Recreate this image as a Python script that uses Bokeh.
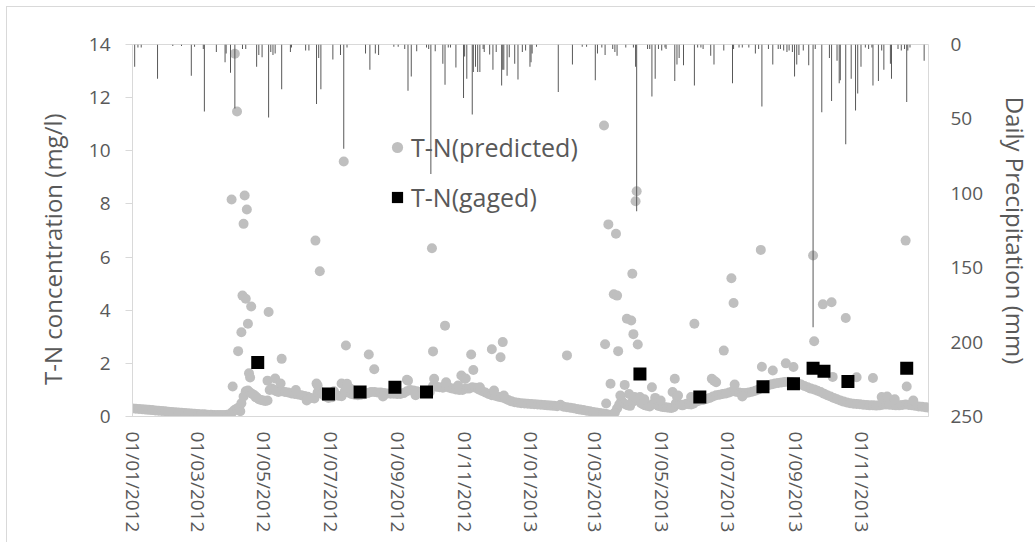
import math
from datetime import datetime, timedelta
import pandas as pd
from bokeh.plotting import figure
from bokeh.models import (Range1d, LinearAxis, FixedTicker, DatetimeTickFormatter,
                          Legend, LegendItem)
from bokeh.embed import file_html
from bokeh.resources import INLINE

START = datetime(2012, 1, 1)
END = datetime(2014, 1, 1)

# ---- T-N predicted: smooth daily baseline (day offset from 01/01/2012, mg/l)
base_day = [0, 3, 6, 9, 12, 15, 18, 21, 24, 27, 30, 33, 36, 39, 42, 45, 48, 51, 54, 57,
            60, 63, 66, 69, 72, 75, 78, 81, 84, 87, 90, 92, 94, 96, 98, 99,
            100, 102, 104, 106, 108, 110, 112, 114, 116, 118, 120, 122, 124, 126, 128, 130,
            132, 134, 137, 140, 143, 146, 149, 152, 155, 158, 161, 164, 167, 170, 172, 174,
            177, 180, 183, 186, 189, 192, 195, 198, 201, 204, 207, 210, 213, 216, 219, 222,
            225, 228, 231, 234, 237, 240, 243, 246, 249, 252, 255, 258, 261, 264, 267, 270,
            273, 276, 279, 282, 285, 288, 291, 294, 297, 300, 303, 306, 309, 312, 315, 318,
            321, 324, 327, 330, 333, 336, 339, 342, 345, 348, 351, 354, 357, 360, 363,
            366, 369, 372, 375, 378, 381, 384, 387, 390, 393, 396, 399, 402, 405, 408, 411,
            414, 417, 420, 423, 426, 429, 432, 435, 438, 441, 443, 445, 447, 449, 451, 453,
            455, 457, 459, 461, 463, 465, 467, 469, 471, 473, 475, 477, 479, 481, 483, 485,
            487, 489, 491, 493, 495, 497, 499, 501, 503, 505, 507, 509, 511, 513, 515, 517,
            519, 521, 524, 527, 530, 533, 536, 539, 542, 545, 548, 551, 554, 557, 560, 563,
            566, 569, 572, 575, 578, 581, 584, 587, 590, 593, 596, 599, 602, 605, 608, 611,
            614, 617, 620, 623, 626, 629, 632, 635, 638, 641, 644, 647, 650, 653, 656, 659,
            662, 665, 668, 671, 674, 677, 680, 683, 686, 689, 692, 695, 698, 701, 704, 707,
            710, 713, 716, 719, 722, 725, 728, 730]
base_val = [0.30, 0.29, 0.28, 0.27, 0.26, 0.25, 0.24, 0.23, 0.22, 0.21, 0.20, 0.18, 0.17, 0.16,
            0.15, 0.14, 0.13, 0.12, 0.11, 0.10, 0.09, 0.08, 0.08, 0.07, 0.07, 0.06, 0.06, 0.06,
            0.06, 0.07, 0.10, 0.18, 0.25, 0.30, 0.35, 0.20,
            0.50, 0.75, 0.95, 0.98, 0.90, 0.85, 0.80, 0.72, 0.65, 0.62, 0.60, 0.58, 0.60, 1.00,
            1.05, 1.00, 0.95, 0.92, 0.95, 0.92, 0.90, 0.87, 0.85, 0.83, 0.80, 0.77, 0.74, 0.70,
            0.68, 0.90, 0.95, 0.85, 0.75, 0.70, 0.72, 0.80, 0.78, 0.76, 0.95, 0.90, 0.85, 0.82,
            0.80, 0.82, 0.84, 0.88, 0.92, 0.92, 0.90, 0.90, 0.88, 0.87, 0.86, 0.86, 0.85, 0.85,
            0.88, 0.95, 1.00, 0.98, 0.95, 0.92, 0.90, 0.90, 0.92, 1.15, 1.12, 1.10, 1.08, 1.12,
            1.08, 1.05, 1.02, 1.00, 1.00, 1.05, 1.05, 1.10, 1.08, 1.02, 0.96, 0.90, 0.85, 0.80,
            0.78, 0.74, 0.72, 0.68, 0.62, 0.57, 0.54, 0.52, 0.50, 0.49, 0.48,
            0.47, 0.46, 0.45, 0.44, 0.43, 0.42, 0.41, 0.40, 0.39, 0.44, 0.37, 0.35, 0.33, 0.31,
            0.28, 0.26, 0.24, 0.22, 0.20, 0.17, 0.15, 0.13, 0.11, 0.09, 0.07, 0.05, 0.15, 0.30,
            0.45, 0.60, 0.50, 0.45, 0.42, 0.40, 0.55, 0.60, 0.70, 0.60, 0.50, 0.45, 0.42, 0.40,
            0.38, 0.45, 0.50, 0.45, 0.40, 0.38, 0.36, 0.35, 0.34, 0.33, 0.32, 0.35, 0.50, 0.48,
            0.45, 0.42, 0.45, 0.48, 0.46, 0.45, 0.48, 0.55, 0.58, 0.60, 0.62, 0.66, 0.70, 0.75,
            0.80, 0.82, 0.85, 0.87, 0.90, 0.95, 0.93, 0.90, 0.88, 0.88, 0.90, 0.93, 0.97, 1.02,
            1.10, 1.14, 1.18, 1.21, 1.24, 1.26, 1.28, 1.30, 1.31, 1.30, 1.28, 1.25, 1.20, 1.15,
            1.10, 1.05, 1.02, 0.97, 0.92, 0.86, 0.80, 0.75, 0.70, 0.65, 0.60, 0.56, 0.53, 0.50,
            0.48, 0.47, 0.46, 0.44, 0.43, 0.42, 0.42, 0.41, 0.42, 0.44, 0.45, 0.44, 0.43, 0.42,
            0.42, 0.43, 0.45, 0.43, 0.42, 0.40, 0.38, 0.37, 0.35, 0.34]

# ---- T-N predicted: storm-event values
peak_day = [91, 92, 94, 96, 97, 100, 101, 102, 103, 104, 105, 106, 107, 108, 109, 113,
            124, 125, 131, 136, 137, 150, 160, 168, 169, 170, 172, 185, 192, 194, 196, 197,
            200, 217, 222, 230, 252, 253, 260, 275, 276, 277, 287, 288, 299, 302, 305, 306,
            311, 313, 319, 330, 332, 338, 340, 341,
            399, 433, 434, 435, 437, 439, 442, 444, 445, 446, 448, 452, 454, 456, 458, 459,
            460, 461, 462, 463, 464, 466, 470, 477, 480, 485, 496, 498, 500, 501, 513, 516,
            532, 534, 536, 543, 550, 552, 553, 560, 577, 578, 588, 600, 607, 625, 626, 634,
            642, 643, 655, 665, 680, 688, 693, 700, 710, 711, 717]
peak_val = [8.17, 1.13, 13.65, 11.48, 2.46, 3.17, 4.55, 7.25, 8.32, 4.43, 7.79, 3.49, 1.63,
            1.47, 4.14, 0.73, 1.35, 3.93, 1.43, 1.24, 2.17, 1.00, 0.60, 6.62, 1.24, 1.17,
            5.47, 0.95, 1.24, 9.60, 2.67, 1.23, 1.05, 2.33, 1.78, 0.75, 1.38, 1.35, 0.80,
            6.33, 2.45, 1.42, 3.42, 1.29, 1.17, 1.54, 1.42, 1.43, 2.33, 1.75, 1.10, 2.53,
            0.98, 2.23, 2.80, 0.79,
            2.30, 10.95, 2.72, 0.49, 7.23, 1.23, 4.60, 6.88, 4.55, 2.46, 0.79, 1.19, 3.68, 0.85,
            3.61, 5.37, 3.10, 0.73, 8.10, 8.48, 2.71, 0.73, 0.65, 1.10, 0.70, 0.60, 0.92, 1.42,
            0.75, 0.79, 0.73, 3.49, 1.42, 1.35, 1.29, 2.48, 5.20, 4.27, 1.20, 0.75, 6.27, 1.87,
            1.73, 2.00, 1.86, 6.06, 2.83, 4.22, 4.30, 1.49, 3.71, 1.48, 1.45, 0.73, 0.75, 0.65,
            6.62, 1.13, 0.60]

# ---- T-N gaged samples
gaged_day = [115, 180, 209, 241, 270, 466, 521, 579, 607, 625, 635, 657, 711]
gaged_val = [2.03, 0.85, 0.92, 1.10, 0.92, 1.60, 0.73, 1.12, 1.23, 1.82, 1.70, 1.32, 1.82]

# ---- Daily precipitation (mm), rainy days only
rain_day = [2, 5, 8, 23, 37, 45, 54, 57, 65, 66, 77, 85, 86, 90, 94, 101, 104, 114, 116, 119,
            125, 127, 129, 131, 137, 145, 146, 159, 162, 169, 171, 173, 184, 191, 194, 197,
            214, 218, 223, 226, 240, 244, 250, 253, 256, 261, 270, 272, 274, 278, 285, 287,
            290, 292, 297, 304, 305, 307, 312, 313, 315, 317, 319, 322, 323, 328, 331, 334,
            339, 340, 341, 344, 346, 351, 354, 358, 361, 365, 366, 367, 371, 391, 404, 413,
            417, 425, 427, 431, 434, 441, 443, 445, 453, 460, 462, 463, 473, 475, 477, 480,
            483, 486, 489, 490, 498, 500, 502, 506, 516, 519, 522, 524, 531, 534, 543, 551,
            552, 557, 560, 566, 572, 575, 578, 584, 588, 593, 595, 598, 601, 603, 606, 608,
            610, 612, 616, 621, 625, 627, 633, 640, 642, 647, 649, 650, 655, 660, 664, 666,
            669, 673, 676, 679, 680, 685, 688, 690, 696, 697, 703, 706, 709, 711, 712, 714, 727]
rain_mm = [15, 2, 2, 23, 1, 1, 21, 1.5, 3, 45, 5, 12, 6, 19, 43, 3, 3, 15, 7, 8.5,
           49, 5, 7, 6, 30, 5, 2, 4, 4, 40, 9, 30, 10, 7, 70, 2,
           6, 17, 6, 7, 1.5, 1.5, 3, 31, 21.5, 4.5, 2, 3, 87, 4.5, 13, 27,
           2, 2, 15.5, 36, 8, 23, 47, 18.5, 15, 18.5, 18.5, 3, 5, 6.7, 17, 5,
           27.5, 17, 17, 21, 8.5, 13, 23.5, 5, 4, 15, 12, 6, 1.5, 32, 13.5, 1.5,
           1.5, 24, 6, 2, 7, 3, 5, 7.5, 2, 2, 15, 112, 3, 3, 35, 23,
           3, 4, 2, 3, 24.6, 13.5, 9, 14, 27.5, 2, 2, 3, 7.5, 13.5, 4, 26,
           3, 2, 2, 2, 6, 3, 41.7, 3, 13.5, 3, 3, 4, 5, 4, 5, 21.5,
           13.5, 7, 4, 14, 190, 3, 45.5, 9, 38, 11, 26, 24, 67, 23, 44.4, 33,
           15, 2, 3, 2, 27.5, 24.6, 4, 17, 13, 23, 3, 4, 3, 38.7, 4, 2, 11]

# ---- axes
tick_dates = pd.date_range("2012-01-01", "2013-11-01", freq="2MS")
tick_labels = ["01/01/2012", "01/03/2012", "01/05/2012", "01/07/2012", "01/09/2012",
               "01/11/2012", "01/01/2013", "01/03/2013", "01/05/2013", "01/07/2013",
               "01/09/2013", "01/11/2013"]
tn_ticks = [0, 2, 4, 6, 8, 10, 12, 14]
rain_ticks = [0, 50, 100, 150, 200, 250]


def to_dates(days):
    return [START + timedelta(days=int(d)) for d in days]


FONT = "Open Sans"
TXT = "#595959"
LINE = "#d9d9d9"

p = figure(width=1035, height=542, x_axis_type="datetime", output_backend="svg",
           toolbar_location=None, x_range=Range1d(START, END), y_range=Range1d(0, 14),
           min_border_left=132, min_border_right=101, min_border_top=44, min_border_bottom=126)
p.styles = {"box-shadow": "inset 6px 6px 0 0 #ffffff, inset 7px 7px 0 0 #d9d9d9"}
p.grid.visible = False
p.outline_line_color = LINE
p.background_fill_color = "white"
p.border_fill_color = None

p.extra_y_ranges = {"rain": Range1d(start=250, end=0)}

pred = p.scatter(to_dates(base_day) + to_dates(peak_day), base_val + peak_val, size=10,
                 marker="circle", fill_color="#bfbfbf", line_color=None)
p.vbar(x=to_dates(rain_day), top=rain_mm, bottom=0, width=0.9 * 86400000,
       y_range_name="rain", fill_color="#555555", line_color=None)
gaged = p.scatter(to_dates(gaged_day), gaged_val, size=13, marker="square",
                  fill_color="black", line_color=None)

tick_ms = [t.timestamp() * 1000 for t in tick_dates]
xa = p.xaxis[0]
xa.ticker = FixedTicker(ticks=tick_ms)
xa.formatter = DatetimeTickFormatter(days="%d/%m/%Y", months="%d/%m/%Y", years="%d/%m/%Y")
xa.major_label_overrides = {ms: lab for ms, lab in zip(tick_ms, tick_labels)}
xa.major_label_orientation = -math.pi / 2
xa.major_tick_out = 0
xa.major_tick_in = 0
xa.minor_tick_out = 0
xa.minor_tick_in = 0
xa.axis_line_color = LINE
xa.major_label_standoff = 15
xa.major_label_text_font = FONT
xa.major_label_text_font_size = "19px"
xa.major_label_text_color = TXT

ya = p.yaxis[0]
ya.ticker = FixedTicker(ticks=tn_ticks)
ya.major_tick_out = 7
ya.major_tick_in = 0
ya.minor_tick_out = 0
ya.minor_tick_in = 0
ya.major_tick_line_color = LINE
ya.axis_line_color = LINE
ya.major_label_standoff = 15
ya.major_label_text_font = FONT
ya.major_label_text_font_size = "19px"
ya.major_label_text_color = TXT
ya.axis_label = "T-N concentration (mg/l)" + "\u00a0" * 6
ya.axis_label_standoff = 17
ya.axis_label_text_font = FONT
ya.axis_label_text_font_size = "24px"
ya.axis_label_text_font_style = "normal"
ya.axis_label_text_color = TXT

ra = LinearAxis(y_range_name="rain", ticker=FixedTicker(ticks=rain_ticks),
                axis_label="Daily Precipitation (mm)")
ra.major_tick_out = 0
ra.major_tick_in = 0
ra.minor_tick_out = 0
ra.minor_tick_in = 0
ra.axis_line_color = None
ra.major_label_standoff = 22
ra.major_label_text_font = FONT
ra.major_label_text_font_size = "19px"
ra.major_label_text_color = TXT
ra.axis_label_standoff = 13
ra.axis_label_text_font = FONT
ra.axis_label_text_font_size = "24px"
ra.axis_label_text_font_style = "normal"
ra.axis_label_text_color = TXT
p.add_layout(ra, "right")

legend = Legend(items=[LegendItem(label="T-N(predicted)", renderers=[pred]),
                       LegendItem(label="T-N(gaged)", renderers=[gaged])],
                location=(251, 202), padding=0, spacing=16, glyph_width=28,
                glyph_height=28, label_height=33, label_standoff=-10,
                border_line_color=None, background_fill_alpha=0,
                label_text_font=FONT, label_text_font_size="25px", label_text_color=TXT)
p.add_layout(legend)

open("out.html", "w").write(file_html(p, INLINE))
